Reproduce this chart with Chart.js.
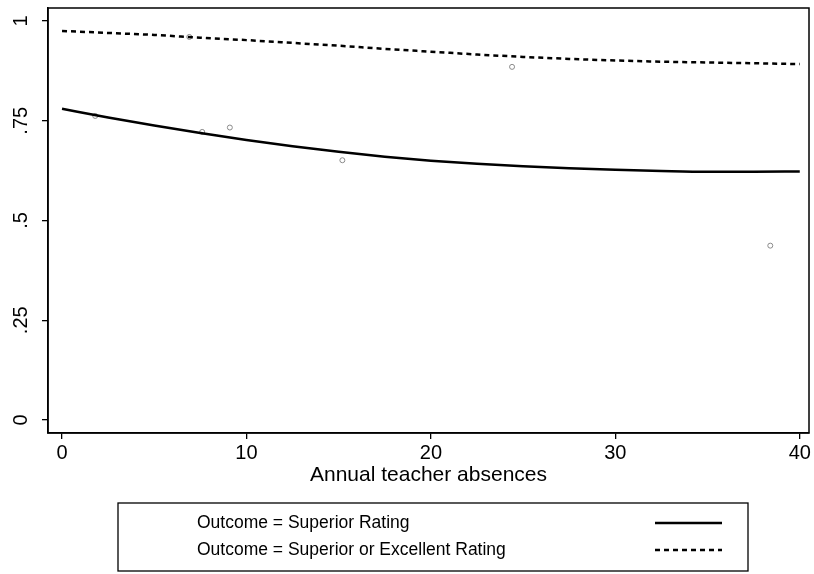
<!DOCTYPE html>
<html>
<head>
  <title>Teacher absences</title>
  <script src="https://cdn.jsdelivr.net/npm/chart.js"></script>
  <style>
    body { margin: 0; background-color: #fff; }
    #wrap { width: 814px; height: 574px; }
  </style>
</head>
<body>
  <div id="wrap"><canvas id="absChart" width="814" height="574"></canvas></div>

  <script>
    // fitted curves
    const absences = [0, 2.5, 5, 7.5, 10, 12.5, 15, 17.5, 20, 22.5, 25, 27.5, 30, 32.5, 35, 37.5, 40];
    const superior = [0.780, 0.758, 0.738, 0.719, 0.702, 0.686, 0.672, 0.660, 0.650, 0.642, 0.636, 0.631, 0.627, 0.624, 0.622, 0.622, 0.623];
    const superiorExcellent = [0.975, 0.970, 0.965, 0.958, 0.952, 0.945, 0.938, 0.930, 0.923, 0.916, 0.910, 0.905, 0.901, 0.898, 0.896, 0.894, 0.892];

    // faint raw points
    const rawX = [1.8, 6.9, 7.6, 9.1, 15.2, 24.4, 38.4];
    const rawY = [0.762, 0.960, 0.722, 0.733, 0.651, 0.885, 0.437];

    const xTicks = [0, 10, 20, 30, 40];
    const yTicks = [0, 0.25, 0.5, 0.75, 1];
    const yTickLabels = ['0', '.25', '.5', '.75', '1'];
    const seriesLabels = ['Outcome = Superior Rating', 'Outcome = Superior or Excellent Rating'];

    const FONT = "'Liberation Sans', Arial, Helvetica, sans-serif";

    function toPoints(xs, ys) {
      return xs.map((x, i) => ({ x: x, y: ys[i] }));
    }

    function noPad(s) {
      s.paddingTop = 0;
      s.paddingBottom = 0;
      s.paddingLeft = 0;
      s.paddingRight = 0;
    }

    const boxPlugin = {
      id: 'boxPlugin',
      afterDatasetsDraw(chart) {
        const { ctx, chartArea: a } = chart;
        ctx.save();
        ctx.strokeStyle = '#000';
        ctx.lineWidth = 1.5;
        ctx.strokeRect(a.left, a.top, a.right - a.left, a.bottom - a.top);
        ctx.restore();
      },
      afterDraw(chart) {
        // legend box under the axis title
        const ctx = chart.ctx;
        ctx.save();
        ctx.strokeStyle = '#000';
        ctx.lineWidth = 1.3;
        ctx.strokeRect(118, 503, 630, 68);
        ctx.font = '17.5px ' + FONT;
        ctx.fillStyle = '#000';
        ctx.textBaseline = 'middle';
        const rows = [523, 550];
        for (let i = 0; i < 2; i++) {
          const ds = chart.data.datasets[i];
          ctx.fillText(ds.label, 197, rows[i]);
          ctx.beginPath();
          ctx.setLineDash(ds.borderDash || []);
          ctx.lineWidth = ds.borderWidth;
          ctx.strokeStyle = ds.borderColor;
          ctx.moveTo(655, rows[i]);
          ctx.lineTo(722, rows[i]);
          ctx.stroke();
        }
        ctx.restore();
      }
    };

    new Chart(document.getElementById('absChart').getContext('2d'), {
      type: 'line',
      data: {
        datasets: [
          {
            label: seriesLabels[0],
            data: toPoints(absences, superior),
            borderColor: '#000',
            borderWidth: 2.5,
            pointRadius: 0,
            cubicInterpolationMode: 'monotone',
            fill: false
          },
          {
            label: seriesLabels[1],
            data: toPoints(absences, superiorExcellent),
            borderColor: '#000',
            borderWidth: 2.5,
            borderDash: [5, 4],
            pointRadius: 0,
            cubicInterpolationMode: 'monotone',
            fill: false
          },
          {
            type: 'scatter',
            label: 'raw',
            data: toPoints(rawX, rawY),
            showLine: false,
            pointRadius: 2.5,
            pointStyle: 'circle',
            borderColor: '#8a8a8a',
            backgroundColor: 'rgba(0,0,0,0)',
            borderWidth: 1
          }
        ]
      },
      options: {
        responsive: false,
        animation: false,
        devicePixelRatio: 1,
        layout: { padding: { top: 8, right: 4, bottom: 86, left: 0 } },
        plugins: { legend: { display: false }, tooltip: { enabled: false } },
        scales: {
          x: {
            type: 'linear',
            min: -0.76,
            max: 40.5,
            afterBuildTicks: s => { s.ticks = xTicks.map(v => ({ value: v })); },
            afterFit: s => { s.height = 55; noPad(s); },
            grid: { drawOnChartArea: false, tickLength: 6, color: '#000', lineWidth: 1.3 },
            border: { color: '#000', width: 1.5 },
            ticks: { color: '#000', font: { family: FONT, size: 20 }, padding: 2, maxRotation: 0, autoSkip: false },
            title: { display: true, text: 'Annual teacher absences', color: '#000', font: { family: FONT, size: 21 }, padding: 0 }
          },
          y: {
            min: -0.0325,
            max: 1.0325,
            afterBuildTicks: s => { s.ticks = yTicks.map(v => ({ value: v })); },
            afterFit: s => { s.width = 48; noPad(s); },
            grid: { drawOnChartArea: false, tickLength: 6, color: '#000', lineWidth: 1.3 },
            border: { color: '#000', width: 1.5 },
            ticks: {
              color: '#000',
              font: { family: FONT, size: 20 },
              minRotation: 90,
              maxRotation: 90,
              crossAlign: 'center',
              padding: 7,
              autoSkip: false,
              callback: v => yTickLabels[yTicks.indexOf(v)]
            }
          }
        }
      },
      plugins: [boxPlugin]
    });
  </script>
</body>
</html>
